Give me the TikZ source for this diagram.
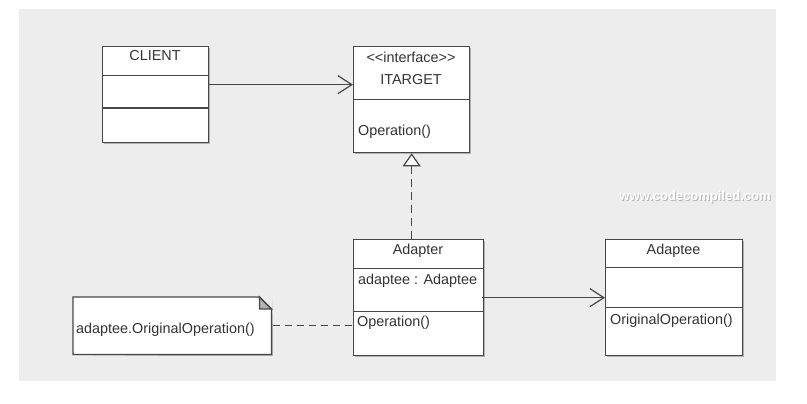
\documentclass[tikz,border=0pt]{standalone}
\usepackage{tikz}
\usepackage{xcolor}
\usepackage{fontspec}
\setmainfont{Liberation Sans}
\usetikzlibrary{arrows.meta,shadows}

\definecolor{umlline}{HTML}{474747}
\definecolor{umltext}{HTML}{333333}
\definecolor{canvasbg}{HTML}{EDEDED}

\begin{document}
\begin{tikzpicture}[x=1pt, y=-1pt,
  compart/.style={draw=umlline, line width=1.3pt, fill=white, inner sep=0pt, anchor=north west,
    drop shadow={shadow xshift=1.5pt, shadow yshift=-1.5pt, fill=black!30, opacity=1}},
  label/.style={text=umltext, inner sep=0pt, text height=10pt, text depth=3pt,
    font=\fontsize{14.4}{17}\selectfont},
  assoc/.style={draw=umlline, line width=1.2pt, -{Straight Barb[length=14pt, width=18pt, line width=1.2pt]}},
  realize/.style={draw=umlline, line width=1.2pt, dash pattern=on 8pt off 5pt,
    -{Triangle[length=13pt, width=18pt, fill=white, line width=1.2pt]}},
  link/.style={draw=umlline, line width=1.2pt, dash pattern=on 7pt off 5pt}
]

\useasboundingbox (0,0) rectangle (807,404);
\fill[canvasbg] (19,9) rectangle (776,381);

% watermark
\node[font=\bfseries\fontsize{13}{15}\selectfont, text=black!28] (mark-shade) at (696,198) {www.codecompiled.com};
\node[font=\bfseries\fontsize{13}{15}\selectfont, text=white] (mark) at (695,197) {www.codecompiled.com};

% client
\node[compart, minimum width=106, minimum height=29] (client-name) at (102,46) {};
\node[compart, minimum width=106, minimum height=32] (client-attr) at (102,75) {};
\node[compart, minimum width=106, minimum height=35] (client-op) at (102,107) {};
\draw[umlline, line width=2.2pt] (client-attr.south west) -- (client-attr.south east);
\node[label] (client-title) at (155,57) {CLIENT};

% target interface
\node[compart, minimum width=116, minimum height=53] (itarget-name) at (353,46) {};
\node[compart, minimum width=116, minimum height=53] (itarget-op) at (353,99) {};
\node[label] (itarget-stereo) at (411,59) {{<}{<}interface{>}{>}};
\node[label] (itarget-title) at (411,81) {ITARGET};
\node[label, anchor=west] (itarget-oper) at (358,132) {Operation()};

% adapter
\node[compart, minimum width=130, minimum height=29] (adapter-name) at (353,239) {};
\node[compart, minimum width=130, minimum height=43] (adapter-attr) at (353,268) {};
\node[compart, minimum width=130, minimum height=44] (adapter-op) at (353,311) {};
\node[label] (adapter-title) at (418,251) {Adapter};
\node[label, anchor=west] (adapter-field) at (358,281) {adaptee : Adaptee};
\node[label, anchor=west] (adapter-oper) at (357,323) {Operation()};

% adaptee
\node[compart, minimum width=137, minimum height=28] (adaptee-name) at (605,239) {};
\node[compart, minimum width=137, minimum height=40] (adaptee-attr) at (605,267) {};
\node[compart, minimum width=137, minimum height=48] (adaptee-op) at (605,307) {};
\node[label] (adaptee-title) at (673.5,251) {Adaptee};
\node[label, anchor=west] (adaptee-oper) at (610,321) {OriginalOperation()};

% note
\node[inner sep=0pt, anchor=north west, minimum width=198, minimum height=57] (note) at (73,297) {};
\fill[black!30] ([xshift=1.5pt, yshift=-1.5pt]note.north east) -- ([xshift=1.5pt, yshift=-1.5pt]note.south east)
  -- ([xshift=1.5pt, yshift=-1.5pt]note.south west) -- ([yshift=-1.5pt]note.south west) -- (note.south east) -- cycle;
\draw[umlline, line width=1.3pt, fill=white] (note.north west) -- ([xshift=-12pt]note.north east)
  -- ([yshift=-12pt]note.north east) -- (note.south east) -- (note.south west) -- cycle;
\draw[umlline, line width=1.3pt, fill=black!30] ([xshift=-12pt]note.north east)
  -- ([xshift=-12pt, yshift=-12pt]note.north east) -- ([yshift=-12pt]note.north east) -- cycle;
\node[label, anchor=west] (note-text) at (76,330) {adaptee.OriginalOperation()};

% connectors
\draw[assoc] ([yshift=7pt]client-attr.east) -- ([yshift=7pt]client-attr.east -| itarget-name.west);
\draw[realize] (adapter-name.north -| itarget-op.south) -- (itarget-op.south);
\draw[assoc] ([xshift=-2pt, yshift=-7.5pt]adapter-attr.east) -- ([yshift=-7.5pt]adapter-attr.east -| adaptee-attr.west);
\draw[link] ([xshift=2pt]note.east) -- (note.east -| adapter-op.west);

\end{tikzpicture}
\end{document}
